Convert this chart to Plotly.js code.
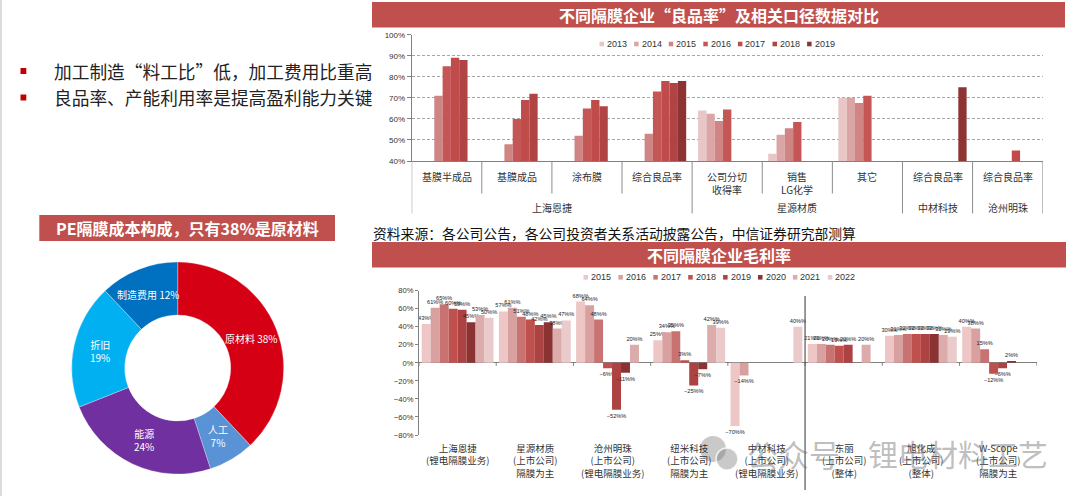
<!DOCTYPE html>
<html><head><meta charset="utf-8">
<script src="https://cdn.plot.ly/plotly-3.0.1.min.js"></script>
<style>html,body{margin:0;padding:0;background:#fff}#chart{width:1080px;height:496px}</style>
</head><body><div id="chart"></div>
<script>
// ---------- DATA: 良品率 chart ----------
const topGroups = ["上海恩捷","上海恩捷","上海恩捷","上海恩捷","星源材质","星源材质","星源材质","中材科技","沧州明珠"];
const topSubs   = ["基膜半成品","基膜成品","涂布膜","综合良品率","公司分切<br>收得率","销售<br>LG化学","其它","综合良品率","综合良品率"];
const topYears  = ["2013","2014","2015","2016","2017","2018","2019"];
const yield2013 = [null,null,null,null,64,43.5,70,null,null];
const yield2014 = [null,null,null,null,62.5,52.5,70,null,null];
const yield2015 = [71,48,52,53,59,55.5,67.5,null,null];
const yield2016 = [85,60,65,73,64.5,58.5,71,null,null];
const yield2017 = [89,69,69,78,null,null,null,null,45];
const yield2018 = [88,72,66,77,null,null,null,null,null];
const yield2019 = [null,null,null,78,null,null,null,75,null];

// ---------- DATA: 毛利率 chart ----------
const gmCompanies = ["上海恩捷","星源材质","沧州明珠","纽米科技","中材科技","东丽","旭化成","W-Scope"];
const gmNotes = ["(锂电隔膜业务)","(上市公司)<br>隔膜为主","(上市公司)<br>(锂电隔膜业务)","(上市公司)<br>隔膜为主","(上市公司)<br>(锂电隔膜业务)","(上市公司)<br>(整体)","(上市公司)<br>(整体)","(上市公司)<br>隔膜为主"];
const gmYears = ["2015","2016","2017","2018","2019","2020","2021","2022"];
const gm2015 = [43,57,68,25,-70,21,30,40];
const gm2016 = [61,61,64,34,-14,21,31,38];
const gm2017 = [65,51,48,35,null,20,32,15];
const gm2018 = [60,48,-6,3,null,19,32,-12];
const gm2019 = [59,42,-52,-25,null,20,32,-6];
const gm2020 = [45,45,-11,-7,null,null,32,2];
const gm2021 = [53,38,20,42,null,20,31,null];
const gm2022 = [50,47,null,39,40,null,29,null];

// ---------- DATA: PE cost structure ----------
const pieLabels = ["原材料","人工","能源","折旧","制造费用"];
const pieValues = [38,7,24,19,12];

// ---------- TEXT ----------
const bullets = ["加工制造“料工比”低，加工费用比重高","良品率、产能利用率是提高盈利能力关键"];
const titleTop = "不同隔膜企业“良品率”及相关口径数据对比";
const titleBottom = "不同隔膜企业毛利率";
const titlePie = "PE隔膜成本构成，只有38%是原材料";
const sourceText = "资料来源：各公司公告，各公司投资者关系活动披露公告，中信证券研究部测算";

// ---------- STYLES ----------
const topColors = ["#e9c6c6","#dba5a5","#d08585","#c55656","#c04b4b","#b04343","#8e3333"];
const gmColors  = ["#eec6c6","#d9a0a0","#c97272","#c0504d","#ad4242","#8b3232","#dcabab","#eacaca"];
const pieColors = ["#d50014","#5a92d6","#7030a0","#00b0f0","#0070c0"];
const pieSep    = [" ","<br>","<br>","<br>"," "];
const RED = "#c0504d";
const W = 1080, H = 496;
const PX = x => x / W;
const PY = y => 1 - y / H;
const CJK = "Noto Sans CJK SC, Liberation Sans, sans-serif";
const LAT = "Liberation Sans, Arial, Noto Sans CJK SC, sans-serif";

const topSeries = [yield2013,yield2014,yield2015,yield2016,yield2017,yield2018,yield2019];
const gmSeries  = [gm2015,gm2016,gm2017,gm2018,gm2019,gm2020,gm2021,gm2022];
const topKeys = topGroups.map((g,i)=>g+"|"+topSubs[i]);

const traces = [];
topSeries.forEach((s,i)=>{
  traces.push({type:'bar', x: topKeys, y: s, name: topYears[i], xaxis:'x', yaxis:'y',
    marker:{color: topColors[i]}, showlegend:false, hoverinfo:'none'});
});
const nGm = gmSeries.length, groupW = 0.93, bw = groupW / nGm;
gmSeries.forEach((s,i)=>{
  traces.push({type:'bar', x: gmCompanies, y: s, name: gmYears[i], xaxis:'x2', yaxis:'y2',
    width: bw, offset: -groupW/2 + i*bw,
    marker:{color: gmColors[i]}, showlegend:false, hoverinfo:'none',
    texttemplate: '%{y}%', textposition:'outside', constraintext:'none', cliponaxis:false,
    textfont:{size:5.6, color:'#222', family: LAT}});
});
// donut geometry (pixels)
const pieCx = 177.7, pieCy = 368, pieR = 106, pieHole = 0.5;
traces.push({type:'pie', labels: pieLabels, values: pieValues, hole: pieHole, sort:false,
  direction:'clockwise', rotation:0,
  marker:{colors: pieColors, line:{color:'#ffffff', width:0.3}},
  textinfo:'none',
  domain:{x:[PX(pieCx-pieR),PX(pieCx+pieR)], y:[PY(pieCy+pieR),PY(pieCy-pieR)]},
  showlegend:false, hoverinfo:'none'});

const shapes = [];
const annotations = [];

// donut slice labels at the middle of each slice's ring
const pieTotal = pieValues.reduce((a,b)=>a+b,0);
let cum = 0;
pieValues.forEach((v,i)=>{
  const th = (cum + v/2) / pieTotal * 2 * Math.PI;
  cum += v;
  const r = pieR * (1 + pieHole) / 2;
  const x = pieCx + r*Math.sin(th), y = pieCy - r*Math.cos(th);
  annotations.push({xref:'paper', yref:'paper', x:PX(x), y:PY(y), xanchor:'center', yanchor:'middle', showarrow:false,
    text: pieLabels[i] + pieSep[i] + v + '%', font:{size:10, color:'#ffffff', family: CJK}});
});

// page border line on left
shapes.push({type:'line', xref:'paper', yref:'paper', x0:PX(1), x1:PX(1), y0:0, y1:1, line:{color:'#dcdcdc', width:2}});

// bullets
bullets.forEach((t,i)=>{
  const cy = [71,97.5][i];
  shapes.push({type:'rect', xref:'paper', yref:'paper', x0:PX(20.5), x1:PX(26.3), y0:PY(cy+3), y1:PY(cy-3), fillcolor:'#c00000', line:{width:0}});
  annotations.push({xref:'paper', yref:'paper', x:PX(52), y:PY(cy), xanchor:'left', yanchor:'middle', showarrow:false,
    text:t, font:{size:17.7, color:'#222', family: CJK}});
});

// headers
function header(x0,x1,y0,y1,text){
  shapes.push({type:'rect', xref:'paper', yref:'paper', x0:PX(x0), x1:PX(x1), y0:PY(y1), y1:PY(y0), fillcolor:RED, line:{width:0}, layer:'below'});
  annotations.push({xref:'paper', yref:'paper', x:PX((x0+x1)/2), y:PY((y0+y1)/2), xanchor:'center', yanchor:'middle', showarrow:false,
    text:'<b>'+text+'</b>', font:{size:16, color:'#ffffff', family: CJK}});
}
header(372,1065,2,27.5,titleTop);
header(372,1066,242,267.5,titleBottom);
header(39.3,335,215,241,titlePie);

// source
annotations.push({xref:'paper', yref:'paper', x:PX(371), y:PY(233.5), xanchor:'left', yanchor:'middle', showarrow:false,
  text:sourceText, font:{size:13.8, color:'#111', family: CJK}});

// top chart category labels and separators
topSubs.forEach((t,i)=>{
  annotations.push({xref:'x', yref:'paper', x:i, y:PY(167.5), xanchor:'center', yanchor:'top', showarrow:false,
    text:t, font:{size:10, color:'#333', family: CJK}});
});
let gStart = 0;
for (let i=1;i<=topGroups.length;i++){
  if (i===topGroups.length || topGroups[i]!==topGroups[i-1]){
    annotations.push({xref:'x', yref:'paper', x:(gStart+i-1)/2, y:PY(207.3), xanchor:'center', yanchor:'middle', showarrow:false,
      text:topGroups[gStart], font:{size:10, color:'#333', family: CJK}});
    gStart = i;
  }
}
for (let i=0;i<=topGroups.length;i++){
  const isGroup = (i===0 || i===topGroups.length || topGroups[i]!==topGroups[i-1]);
  shapes.push({type:'line', xref:'x', yref:'paper', x0:i-0.5, x1:i-0.5, y0:PY(161), y1:PY(isGroup?213.5:193.5),
    line:{color:'#8c8c8c', width:1}});
}

// top legend
topYears.forEach((y,i)=>{
  const x = 599.5 + i*34.6, cy = 44;
  shapes.push({type:'rect', xref:'paper', yref:'paper', x0:PX(x), x1:PX(x+4.5), y0:PY(cy+2.3), y1:PY(cy-2.3), fillcolor:topColors[i], line:{width:0}});
  annotations.push({xref:'paper', yref:'paper', x:PX(x+5.5), y:PY(cy), xanchor:'left', yanchor:'middle', showarrow:false,
    text:y, font:{size:9, color:'#333', family: LAT}});
});

// bottom legend
gmYears.forEach((y,i)=>{
  const x = 583.5 + i*34.9, cy = 277.3;
  shapes.push({type:'rect', xref:'paper', yref:'paper', x0:PX(x), x1:PX(x+4.5), y0:PY(cy+2.3), y1:PY(cy-2.3), fillcolor:gmColors[i], line:{width:0}});
  annotations.push({xref:'paper', yref:'paper', x:PX(x+5.5), y:PY(cy), xanchor:'left', yanchor:'middle', showarrow:false,
    text:y, font:{size:9, color:'#333', family: LAT}});
});

// bottom labels & ticks
gmCompanies.forEach((c,i)=>{
  annotations.push({xref:'x2', yref:'paper', x:i, y:PY(439), xanchor:'center', yanchor:'top', showarrow:false,
    text:c+'<br>'+gmNotes[i], font:{size:9.5, color:'#333', family: CJK}});
});
for (let i=0;i<=gmCompanies.length;i++){
  shapes.push({type:'line', xref:'x2', yref:'y2', x0:i-0.5, x1:i-0.5, y0:0, y1:-3.3, line:{color:'#808080', width:1}});
}
const sepIdx = gmCompanies.indexOf("东丽") - 0.5;
shapes.push({type:'line', xref:'x2', yref:'paper', x0:sepIdx, x1:sepIdx, y0:PY(296), y1:PY(490), line:{color:'#555', width:1.2}});

// watermark
shapes.push({type:'circle', xref:'paper', yref:'paper', x0:PX(700), x1:PX(726), y0:PY(462), y1:PY(436), fillcolor:'rgba(120,120,120,0.4)', line:{width:0}});
shapes.push({type:'circle', xref:'paper', yref:'paper', x0:PX(716), x1:PX(738), y0:PY(470), y1:PY(448), fillcolor:'rgba(120,120,120,0.4)', line:{color:'rgba(255,255,255,0.8)', width:1.5}});
annotations.push({xref:'paper', yref:'paper', x:PX(745), y:PY(453), xanchor:'left', yanchor:'middle', showarrow:false,
  text:'公众号', font:{size:31, color:'rgba(110,110,110,0.45)', family: CJK}});
annotations.push({xref:'paper', yref:'paper', x:PX(866), y:PY(453), xanchor:'left', yanchor:'middle', showarrow:false,
  text:'锂电材料工艺', font:{size:30, color:'rgba(110,110,110,0.45)', family: CJK}});

const layout = {
  width: W, height: H, margin:{l:0,r:0,t:0,b:0}, paper_bgcolor:'#fff', plot_bgcolor:'rgba(0,0,0,0)',
  font:{family: LAT, color:'#333'},
  barmode:'group', bargap:0.17, bargroupgap:0,
  showlegend:false,
  xaxis:{domain:[PX(411.7),PX(1042.7)], anchor:'y', type:'category', categoryorder:'array', categoryarray: topKeys,
    range:[-0.5, topKeys.length-0.5], showticklabels:false, ticks:'', showline:true, linecolor:'#808080', linewidth:1, showgrid:false, zeroline:false, fixedrange:true},
  yaxis:{domain:[PY(161),PY(34.7)], anchor:'x', range:[40,100], dtick:10, ticksuffix:'%', showgrid:true, gridcolor:'#a6a6a6', griddash:'3px,2px', gridwidth:1,
    showline:true, linecolor:'#808080', ticks:'outside', ticklen:4, tickcolor:'#808080', zeroline:false,
    tickfont:{size:8, color:'#333', family: LAT}, fixedrange:true},
  xaxis2:{domain:[PX(419),PX(1036.7)], anchor:'y2', type:'category', range:[-0.5, gmCompanies.length-0.5],
    showticklabels:false, ticks:'', showline:false, showgrid:false, zeroline:false, fixedrange:true},
  yaxis2:{domain:[PY(435),PY(290.7)], anchor:'x2', range:[-80,80], dtick:20, ticksuffix:'%', showgrid:false,
    showline:true, linecolor:'#808080', ticks:'outside', ticklen:3, tickcolor:'#808080',
    zeroline:true, zerolinecolor:'#808080', zerolinewidth:1,
    tickfont:{size:7.6, color:'#333', family: LAT}, fixedrange:true},
  shapes: shapes, annotations: annotations
};
Plotly.newPlot('chart', traces, layout, {displayModeBar:false, staticPlot:true});
</script>
</body></html>
